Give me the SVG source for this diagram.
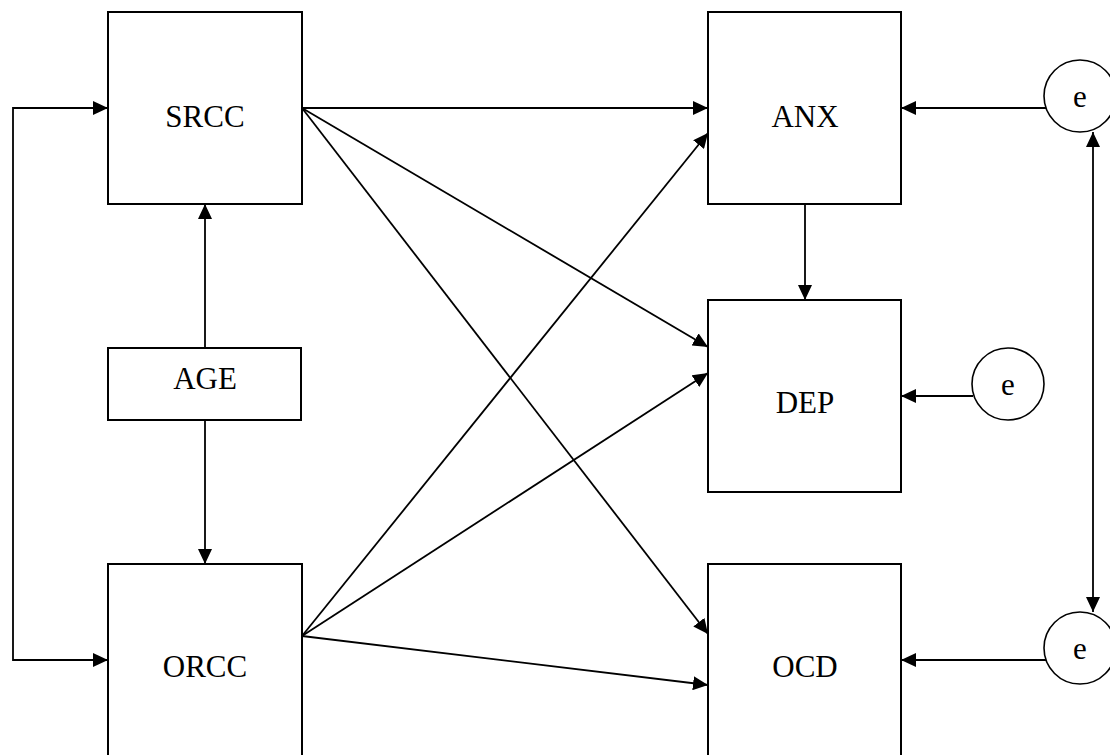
<svg xmlns="http://www.w3.org/2000/svg" width="1110" height="755" viewBox="0 0 1110 755">
<style>
.box{fill:#fff;stroke:#000;stroke-width:2}
.err{fill:#fff;stroke:#000;stroke-width:1.6}
.lbl{font-family:"Liberation Serif","Times New Roman",serif;font-size:31px;fill:#000;text-anchor:middle}
.elbl{font-family:"Liberation Serif","Times New Roman",serif;font-size:31px;fill:#000;text-anchor:middle}
.c{fill:none;stroke:#000;stroke-width:1.8}
</style>
<defs>
<marker id="ah" markerUnits="userSpaceOnUse" markerWidth="16" markerHeight="14" refX="15" refY="7" orient="auto-start-reverse" viewBox="0 0 16 14">
<path d="M0,0 L15,7 L0,14 z" fill="#000"/>
</marker>
</defs>
<g id="connectors">
<path class="c" d="M108,108 H13 V660 H108" marker-start="url(#ah)" marker-end="url(#ah)"/>
<line class="c" x1="205" y1="348" x2="205" y2="204" marker-end="url(#ah)"/>
<line class="c" x1="205" y1="420" x2="205" y2="564" marker-end="url(#ah)"/>
<line class="c" x1="302" y1="108" x2="708" y2="108" marker-end="url(#ah)"/>
<line class="c" x1="302" y1="108" x2="708" y2="347" marker-end="url(#ah)"/>
<line class="c" x1="302" y1="108" x2="708" y2="634" marker-end="url(#ah)"/>
<line class="c" x1="302" y1="636" x2="708" y2="133" marker-end="url(#ah)"/>
<line class="c" x1="302" y1="636" x2="708" y2="373" marker-end="url(#ah)"/>
<line class="c" x1="302" y1="636" x2="708" y2="685" marker-end="url(#ah)"/>
<line class="c" x1="805" y1="204" x2="805" y2="300" marker-end="url(#ah)"/>
<line class="c" x1="1046" y1="108" x2="901" y2="108" marker-end="url(#ah)"/>
<line class="c" x1="973" y1="396" x2="901" y2="396" marker-end="url(#ah)"/>
<line class="c" x1="1046" y1="660" x2="901" y2="660" marker-end="url(#ah)"/>
<line class="c" x1="1093" y1="132" x2="1093" y2="612" marker-start="url(#ah)" marker-end="url(#ah)"/>
</g>
<g id="SRCC"><rect class="box" x="108" y="12" width="194" height="192"/><text class="lbl" x="205" y="127">SRCC</text></g>
<g id="AGE"><rect class="box" x="108" y="348" width="193" height="72"/><text class="lbl" x="205" y="389">AGE</text></g>
<g id="ORCC"><rect class="box" x="108" y="564" width="194" height="200"/><text class="lbl" x="205" y="677">ORCC</text></g>
<g id="ANX"><rect class="box" x="708" y="12" width="193" height="192"/><text class="lbl" x="805" y="127">ANX</text></g>
<g id="DEP"><rect class="box" x="708" y="300" width="193" height="192"/><text class="lbl" x="805" y="413">DEP</text></g>
<g id="OCD"><rect class="box" x="708" y="564" width="193" height="200"/><text class="lbl" x="805" y="677">OCD</text></g>
<g id="e1"><circle class="err" cx="1080" cy="96" r="36"/><text class="elbl" x="1080" y="107">e</text></g>
<g id="e2"><circle class="err" cx="1008" cy="384" r="36"/><text class="elbl" x="1008" y="395">e</text></g>
<g id="e3"><circle class="err" cx="1080" cy="648" r="36"/><text class="elbl" x="1080" y="659">e</text></g>
</svg>
